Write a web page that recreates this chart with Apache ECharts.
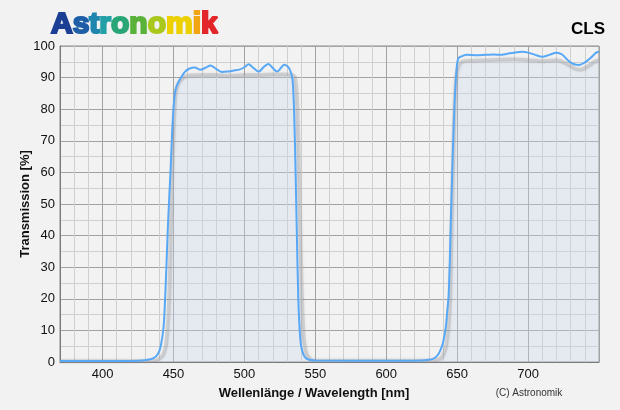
<!DOCTYPE html>
<html>
<head>
<meta charset="utf-8">
<script src="https://cdn.jsdelivr.net/npm/echarts@6/dist/echarts.min.js"></script>
<style>
html,body{margin:0;padding:0;background:#f2f2f2;}
#chart{width:620px;height:410px;}
</style>
</head>
<body>
<div id="chart"></div>
<script>
// Wavelength (nm) and transmission (%) of the measured filter (blue curve)
const blueWavelength = [370,400,425,432,436,439,441,443,444,445,446,447,448,449,450,451,452,454,456,458,461,465,469,473,476,480,484,488,492,497,500,503,506,510,514,517,520,523,526,528,531,533,534,535,536,537,538,539,540,542,545,550,600,625,630,633,636,638,640,642,643,644,645,646,647,648,649,650,651,653,657,663,670,676,680,685,690,696,700,705,710,715,720,724,728,732,736,740,744,748,750];
const blueTransmission = [0.3,0.3,0.4,0.7,1.2,2.5,5,11,19,30,42,52,61,72,80,85,87,89,90.5,91.8,92.8,93.2,92.5,93.2,93.8,92.8,91.8,91.9,92.2,92.6,93.3,94.2,93.2,91.9,93.5,94.3,93,91.9,93.2,94.1,93.3,91.4,89,80,62,40,20,10,5,2,0.8,0.5,0.4,0.5,0.7,1,2,3.5,6,11,16,21,35,52,67,80,89,94.5,96.2,96.7,97.2,97.1,97.2,97.3,97.2,97.5,97.9,98.2,97.9,97.2,96.6,97.2,97.9,97.3,95.5,94.3,94,94.8,96.2,97.9,98.2];

// Reference / second measurement (grey shaded curve)
const greyWavelength = [370,435,440,443,445,447,448,449,450,451,452,454,457,460,470,480,490,500,510,520,530,535,536,537,538,539,540,541,542,544,547,550,630,638,641,643,645,646,647,648,649,650,652,655,670,690,700,710,720,728,733,737,742,747,750];
const greyTransmission = [0.2,0.3,1,2.5,6,20,40,58,72,82,86,88.5,90,90.6,90.8,90.8,90.6,90.8,90.8,91,91,90.5,89,84,70,50,30,15,7,2.5,0.8,0.4,0.4,1,3,7,20,40,60,78,88,92,94.5,95.2,95.5,95.8,95.5,95.2,95.5,94.2,92.8,92.5,93.5,95,95.5];

// Axis ticks
const xMin = 370, xMax = 750, xStep = 10, xLabelStep = 50;
const yMin = 0, yMax = 100, yStep = 5, yLabelStep = 10;

const logoLetters = ['A','s','t','r','o','n','o','m','i','k'];
const logoColors = ['#1b3f94','#1d5ea6','#1f86ae','#22a0a6','#2aa676','#5ab23a','#a9c81c','#ecd000','#f2a512','#e2262a'];
const filterName = 'CLS';
const xTitle = 'Wellenlänge / Wavelength [nm]';
const yTitle = 'Transmission [%]';
const copyright = '(C) Astronomik';

const zip = (a, b) => a.map((v, i) => [v, b[i]]);

const rich = {};
logoLetters.forEach((ch, i) => {
  rich['c' + i] = {fill: logoColors[i], stroke: logoColors[i], lineWidth: 2.2, font: 'bold 30px "Liberation Sans"'};
});
const logoText = logoLetters.map((ch, i) => '{c' + i + '|' + ch + '}').join('');

const light = '#cfcfcf', dark = '#a3a3a3';
const chart = echarts.init(document.getElementById('chart'));
chart.setOption({
  backgroundColor: '#f2f2f2',
  animation: false,
  grid: {left: 60, top: 46, width: 539, height: 316, show: true, borderColor: '#8a8a8a', borderWidth: 1, backgroundColor: 'transparent'},
  xAxis: {
    type: 'value', min: xMin, max: xMax, interval: xStep,
    axisLine: {show: true, lineStyle: {color: '#7a7a7a', width: 1}},
    axisTick: {show: false},
    axisLabel: {
      color: '#111', fontFamily: 'Liberation Sans', fontSize: 13, margin: 6,
      showMaxLabel: false,
      formatter: v => (v % xLabelStep === 0 && v < xMax) ? String(v) : ''
    },
    splitLine: {show: true, lineStyle: {color: [light, light, light, dark, light], width: 1}}
  },
  yAxis: {
    type: 'value', min: yMin, max: yMax, interval: yStep,
    axisLine: {show: true, lineStyle: {color: '#7a7a7a', width: 1}},
    axisTick: {show: false},
    axisLabel: {
      color: '#111', fontFamily: 'Liberation Sans', fontSize: 13, margin: 5,
      formatter: v => (v % yLabelStep === 0) ? String(v) : ''
    },
    splitLine: {show: true, lineStyle: {color: [dark, light], width: 1}}
  },
  series: [
    {
      type: 'line', data: zip(greyWavelength, greyTransmission), showSymbol: false, smooth: 0.3,
      lineStyle: {color: 'rgba(150,150,150,0.3)', width: 4, shadowBlur: 3, shadowColor: 'rgba(120,120,120,0.35)'},
      areaStyle: {color: 'rgba(200,215,235,0.45)'},
      z: 2
    },
    {
      type: 'line', data: zip(blueWavelength, blueTransmission), showSymbol: false, smooth: 0.3,
      lineStyle: {color: '#58a8f6', width: 2},
      z: 3
    }
  ],
  graphic: [
    {
      type: 'text', x: 51, y: 40,
      style: {text: logoText, rich: rich, verticalAlign: 'bottom', font: 'bold 30px "Liberation Sans"'}
    },
    {type: 'text', right: 15, top: 21, style: {text: filterName, font: 'bold 17px "Liberation Sans"', fill: '#000'}},
    {type: 'text', x: 314, y: 393, style: {text: xTitle, font: 'bold 13px "Liberation Sans"', fill: '#111', align: 'center', verticalAlign: 'middle'}},
    {type: 'text', x: 25, y: 204, rotation: Math.PI / 2, style: {text: yTitle, font: 'bold 13px "Liberation Sans"', fill: '#111', align: 'center', verticalAlign: 'middle'}},
    {type: 'text', x: 529, y: 393, style: {text: copyright, font: '10px "Liberation Sans"', fill: '#333', align: 'center', verticalAlign: 'middle'}}
  ]
});
</script>
</body>
</html>
